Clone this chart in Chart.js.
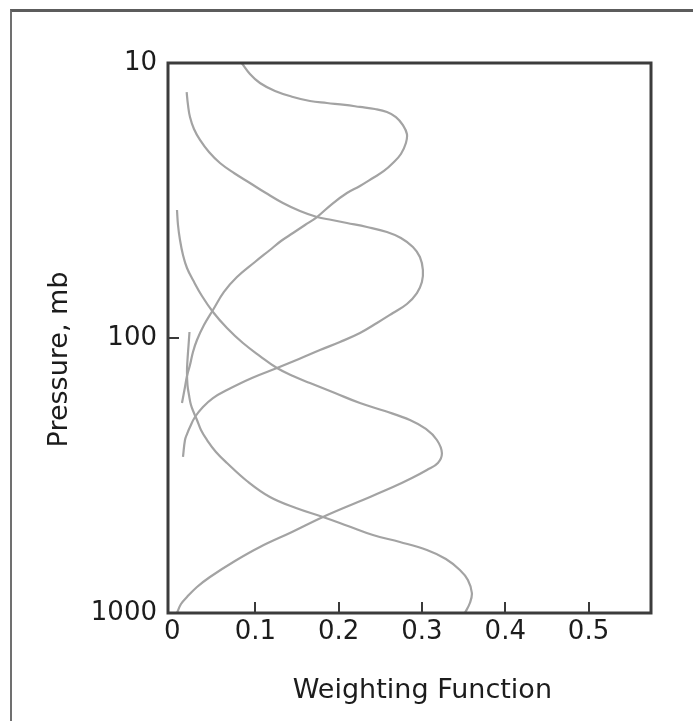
<!DOCTYPE html>
<html><head><meta charset="utf-8">
<script src="https://cdn.jsdelivr.net/npm/chart.js@4.4.1/dist/chart.umd.min.js"></script>
<style>
html,body{margin:0;padding:0;background:#fff;}
#wrap{position:relative;width:693px;height:721px;overflow:hidden;}
#frame{position:absolute;left:10px;top:9px;width:720px;height:760px;border-top:3px solid #5c5c5c;border-left:2px solid #707070;pointer-events:none;}
canvas{position:absolute;left:0;top:0;}
</style></head><body>
<div id="wrap"><canvas id="c" width="693" height="721"></canvas><div id="frame"></div></div>
<script>
// ---- data ----
const xTickValues = [0, 0.1, 0.2, 0.3, 0.4, 0.5];
const yTickValues = [10, 100, 1000];
const xTitle = '   Weighting Function';
const yTitle = 'Pressure, mb     ';

const ch1Pressure = [10, 10.96, 11.82, 12.64, 13.29, 13.75, 13.98, 14.21, 14.45, 14.70, 15.07, 15.72, 16.81, 18.12, 19.54, 21.42, 23.10, 24.70, 26.19, 28.01, 29.71, 32.57, 36.31, 38.82, 41.52, 44.39, 47.86, 52.93, 60.02, 68.02, 79.10, 89.70, 101.7, 112.4, 125.4, 137.5, 150.8, 172.4];
const ch1Weight   = [0.0835, 0.0934, 0.1054, 0.1235, 0.1451, 0.1655, 0.1859, 0.2075, 0.2255, 0.2435, 0.2579, 0.2687, 0.2771, 0.2819, 0.2807, 0.2747, 0.2651, 0.2543, 0.2411, 0.2255, 0.2099, 0.1919, 0.1739, 0.1595, 0.1451, 0.1307, 0.1174, 0.0994, 0.0778, 0.0622, 0.049, 0.0382, 0.0298, 0.025, 0.0214, 0.0178, 0.0154, 0.0118];

const ch2Pressure = [12.75, 14.21, 15.72, 17.38, 19.05, 21.07, 23.10, 25.12, 27.31, 29.71, 32.29, 34.53, 36.31, 37.23, 38.18, 39.48, 41.16, 43.29, 46.67, 50.75, 56.59, 62.57, 68.61, 75.23, 81.11, 88.20, 95.9, 103.4, 110.6, 119.2, 128.6, 139.8, 154.6, 165.3, 178.2, 193.8, 210.7, 223.5, 234.9, 270.8];
const ch2Weight   = [0.0174, 0.019, 0.0214, 0.0262, 0.0334, 0.0442, 0.0574, 0.0742, 0.0934, 0.1126, 0.133, 0.1535, 0.1739, 0.1919, 0.2099, 0.2339, 0.2579, 0.2747, 0.2891, 0.2975, 0.3011, 0.2999, 0.2939, 0.2819, 0.2651, 0.2459, 0.2255, 0.2015, 0.1775, 0.1523, 0.1259, 0.0958, 0.0658, 0.049, 0.037, 0.0274, 0.0214, 0.0178, 0.0154, 0.013];

const ch3Pressure = [34.23, 38.82, 44.02, 49.91, 55.66, 61.53, 70.36, 80.44, 91.96, 104.3, 116.3, 128.6, 137.5, 145.8, 158.5, 172.4, 184.3, 198.7, 214.2, 234.9, 261.9, 284.8, 302.0, 322.9, 348.3, 394.8, 447.7, 507.6, 575.4, 647.0, 739.7, 804.4, 874.6, 927.5, 1000];
const ch3Weight   = [0.0058, 0.007, 0.0094, 0.013, 0.0178, 0.025, 0.0358, 0.049, 0.0658, 0.085, 0.1054, 0.1259, 0.1451, 0.1655, 0.1955, 0.2255, 0.2555, 0.2855, 0.3047, 0.3179, 0.3239, 0.3191, 0.3059, 0.2879, 0.2651, 0.2231, 0.1811, 0.1439, 0.1054, 0.0754, 0.0454, 0.0298, 0.0178, 0.0106, 0.0058];

const ch4Pressure = [95.11, 106.9, 120.2, 132.9, 148.3, 161.2, 175.3, 187.4, 198.7, 216.0, 234.9, 259.7, 284.8, 331.1, 378.6, 415.1, 447.7, 482.6, 520.6, 551.9, 590.2, 636.3, 697.7, 758.6, 845.9, 919.6, 1000];
const ch4Weight   = [0.0208, 0.0196, 0.0184, 0.0178, 0.0184, 0.0202, 0.0226, 0.0262, 0.0298, 0.0346, 0.0418, 0.0526, 0.0658, 0.0898, 0.1174, 0.1487, 0.1811, 0.2111, 0.2411, 0.2735, 0.3059, 0.3287, 0.3455, 0.3551, 0.3599, 0.3575, 0.3515];

const xMin = -0.005, xMax = 0.575;

function pts(p, w) { return p.map((v, i) => ({ x: w[i], y: v })); }

const lineColor = '#a3a3a3';
const series = [[ch1Pressure, ch1Weight], [ch2Pressure, ch2Weight], [ch3Pressure, ch3Weight], [ch4Pressure, ch4Weight]];
const datasets = series.map(([p, w], i) => ({
  label: 'Channel ' + (i + 1),
  data: pts(p, w),
  showLine: true,
  borderColor: lineColor,
  borderWidth: 2.2,
  pointRadius: 0,
  tension: 0.4,
  fill: false
}));

const FONT = 'DejaVu Sans, Verdana, sans-serif';
const TXT = '#1c1c1c';

const framePlugin = {
  id: 'frameAndTicks',
  afterDatasetsDraw(chart) {
    const { ctx, chartArea: a, scales: { x, y } } = chart;
    ctx.save();
    ctx.strokeStyle = '#3a3a3a';
    ctx.lineWidth = 2;
    ctx.beginPath();
    xTickValues.forEach(v => {
      if (v === 0) return;
      const px = Math.round(x.getPixelForValue(v));
      ctx.moveTo(px, a.bottom);
      ctx.lineTo(px, a.bottom - 11);
    });
    yTickValues.forEach(v => {
      if (v === yTickValues[0] || v === yTickValues[yTickValues.length - 1]) return;
      const py = Math.round(y.getPixelForValue(v));
      ctx.moveTo(a.left, py);
      ctx.lineTo(a.left + 11, py);
    });
    ctx.stroke();
    ctx.lineWidth = 3;
    ctx.strokeStyle = '#3c3c3c';
    ctx.strokeRect(a.left, a.top, a.right - a.left, a.bottom - a.top);
    ctx.restore();
  }
};

new Chart(document.getElementById('c'), {
  type: 'scatter',
  data: { datasets },
  options: {
    responsive: false,
    animation: false,
    devicePixelRatio: 1,
    layout: { padding: { left: 0, top: 63, right: 42, bottom: 0 } },
    plugins: { legend: { display: false }, tooltip: { enabled: false } },
    scales: {
      x: {
        type: 'linear',
        min: xMin, max: xMax,
        grid: { display: false, drawTicks: false },
        border: { display: false },
        afterBuildTicks: s => { s.ticks = xTickValues.map(v => ({ value: v })); },
        afterFit: s => { s.height = 108; },
        ticks: { color: TXT, font: { family: FONT, size: 26 }, padding: 4, maxRotation: 0, autoSkip: false,
                 callback: v => String(v) },
        title: { display: true, text: xTitle, color: TXT, font: { family: FONT, size: 27 }, padding: { top: 0, bottom: 14 } }
      },
      y: {
        type: 'logarithmic',
        reverse: true,
        min: 10, max: 1000,
        grid: { display: false, drawTicks: false },
        border: { display: false },
        afterBuildTicks: s => { s.ticks = yTickValues.map(v => ({ value: v })); },
        afterFit: s => { s.width = 168; },
        ticks: { color: TXT, font: { family: FONT, size: 26 }, padding: 11, autoSkip: false,
                 callback: v => String(v) },
        title: { display: true, text: yTitle, color: TXT, font: { family: FONT, size: 27 }, padding: { top: 44, bottom: 0 } }
      }
    }
  },
  plugins: [framePlugin]
});
</script>
</body></html>
